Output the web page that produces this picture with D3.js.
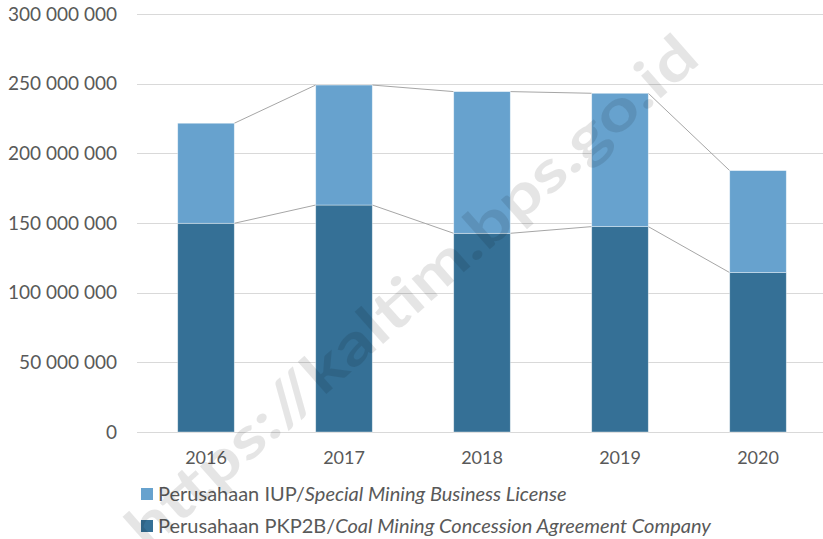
<!DOCTYPE html>
<html>
<head>
<meta charset="utf-8">
<script src="https://cdn.jsdelivr.net/npm/d3@7"></script>
<style>
  html, body { margin: 0; padding: 0; background: #fff; }
  svg { display: block; }
  text { font-family: Lato, "Open Sans", sans-serif; fill: #595959; }
</style>
</head>
<body>
<svg id="chart" width="823" height="539"></svg>
<script>
// values (tonnes)
const years = ['2016', '2017', '2018', '2019', '2020']
const pkp2b = [149800000, 162900000, 142600000, 147400000, 114400000]
const iup = [71800000, 86100000, 101700000, 95700000, 73200000]
const yTicks = [0, 50000000, 100000000, 150000000, 200000000, 250000000, 300000000]
const seriesNames = [
  ['Perusahaan IUP/', 'Special Mining Business License'],
  ['Perusahaan PKP2B/', 'Coal Mining Concession Agreement Company']
]
const colors = { iup: '#67a2ce', pkp2b: '#357096' }

const W = 823, H = 539
const plotLeft = 137, plotRight = 827, plotTop = 14, plotBottom = 432

const svg = d3.select('#chart')

const x = d3.scaleBand().domain(years).range([plotLeft, plotRight]).paddingInner(0.59).paddingOuter(0.295)
const y = d3.scaleLinear().domain([0, 300000000]).range([plotBottom, plotTop])

const fmt = v => d3.format(',')(v).replace(/,/g, ' ')

// gridlines
svg.append('g')
  .selectAll('line')
  .data(yTicks)
  .join('line')
  .attr('x1', plotLeft).attr('x2', W)
  .attr('y1', d => Math.round(y(d)) + 0.5).attr('y2', d => Math.round(y(d)) + 0.5)
  .attr('stroke', '#d9d9d9').attr('stroke-width', 1)

// y axis labels
const yAxis = svg.append('g').attr('transform', `translate(${plotLeft - 20},0)`)
  .call(d3.axisLeft(y).tickValues(yTicks).tickFormat(fmt).tickSize(0).tickPadding(0))
yAxis.select('.domain').remove()
yAxis.selectAll('text').style('font-size', '19px').attr('fill', '#595959').attr('font-family', 'Lato, sans-serif')

// x axis labels
const xAxis = svg.append('g').attr('transform', `translate(0,${plotBottom})`)
  .call(d3.axisBottom(x).tickSize(0).tickPadding(19))
xAxis.select('.domain').remove()
xAxis.selectAll('text').style('font-size', '18px').attr('fill', '#595959').attr('font-family', 'Lato, sans-serif')

// stacked data
const rows = years.map((yr, i) => ({ year: yr, pkp2b: pkp2b[i], iup: iup[i] }))
const stack = d3.stack().keys(['pkp2b', 'iup'])(rows)

// series lines between bar tops
const bw = x.bandwidth()
stack.forEach(s => {
  const segs = []
  for (let i = 0; i < s.length - 1; i++) {
    segs.push([x(years[i]) + bw, y(s[i][1]), x(years[i + 1]), y(s[i + 1][1])])
  }
  svg.append('g').selectAll('line').data(segs).join('line')
    .attr('x1', d => d[0]).attr('y1', d => d[1])
    .attr('x2', d => d[2]).attr('y2', d => d[3])
    .attr('stroke', '#a6a6a6').attr('stroke-width', 1)
})

// bars
svg.append('g')
  .selectAll('g')
  .data(stack)
  .join('g')
  .attr('fill', d => colors[d.key])
  .selectAll('rect')
  .data(d => d)
  .join('rect')
  .attr('x', d => x(d.data.year))
  .attr('width', bw)
  .attr('y', d => y(d[1]))
  .attr('height', d => y(d[0]) - y(d[1]))
  .attr('stroke', '#ffffff').attr('stroke-opacity', 0.5).attr('stroke-width', 0.75)

// legend
const legend = svg.append('g')
const legendItems = [
  { name: seriesNames[0], color: colors.iup, y: 494 },
  { name: seriesNames[1], color: colors.pkp2b, y: 526 }
]
legendItems.forEach(it => {
  legend.append('rect').attr('x', 141).attr('y', it.y - 6).attr('width', 12).attr('height', 12).attr('fill', it.color)
  const t = legend.append('text').attr('x', 158).attr('y', it.y + 7).style('font-size', '20px')
  t.append('tspan').text(it.name[0])
  t.append('tspan').attr('font-style', 'italic').text(it.name[1])
})

// watermark
svg.append('text')
  .attr('transform', 'translate(410,290) rotate(-41.5)')
  .attr('text-anchor', 'middle')
  .attr('dominant-baseline', 'central')
  .attr('font-family', 'Liberation Sans, Arial, sans-serif')
  .attr('font-weight', 'bold')
  .style('font-size', '58px')
  .style('fill', '#000')
  .style('fill-opacity', 0.1)
  .attr('textLength', 740)
  .attr('lengthAdjust', 'spacingAndGlyphs')
  .text('https://kaltim.bps.go.id')
</script>
</body>
</html>
